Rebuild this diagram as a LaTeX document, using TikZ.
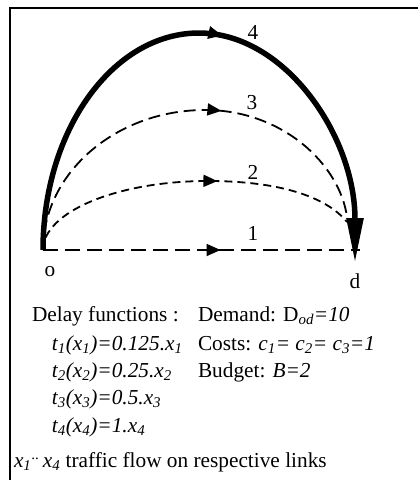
\documentclass[tikz,border=0pt]{standalone}
\usepackage{fontspec}
\setmainfont{Liberation Serif}
\usetikzlibrary{arrows.meta,decorations.markings}
\begin{document}
\begin{tikzpicture}[x=1pt,y=-1pt,
  every node/.style={inner sep=0pt,outer sep=0pt,font=\fontsize{21.3}{25}\selectfont},
  txt/.style={anchor=base west},
  lbl/.style={anchor=base},
  midarrow/.style={postaction={decorate,decoration={markings,
      mark=at position #1 with {\arrow{Triangle[length=14pt,width=12pt]}}}}},
  dlink/.style={line width=1.8pt},
  thick4/.style={line width=5.5pt}]
\useasboundingbox (0,0) rectangle (418,480);
% frame
\draw[line width=1.5pt] (10,480) -- (10,8) -- (418,8);
% vertices
\coordinate (o) at (43,250);
\coordinate (d) at (360,250);
\coordinate (p2) at (208,181);
\coordinate (p3) at (205,110);
\coordinate (p4) at (199,33);
\coordinate (e2) at (347,222);
\coordinate (e3) at (347,217);
\coordinate (dtip) at (355,263);
% link 1
\draw[dlink,dash pattern=on 15pt off 7pt,midarrow=0.56] (o) -- (d);
% link 2
\draw[dlink,dash pattern=on 8pt off 5pt,midarrow=0.59]
  (o) .. controls (43,212) and (117,181) .. (p2)
      .. controls (275,181) and (325,195) .. (e2);
% link 3
\draw[dlink,dash pattern=on 12pt off 6pt,midarrow=0.59]
  (o) .. controls (43,173) and (116,110) .. (p3)
      .. controls (283,110) and (340,165) .. (e3);
% link 4
\draw[thick4,midarrow=0.53,-{Triangle[length=45pt,width=16pt]}]
  (o) .. controls (43,130) and (113,33) .. (p4)
      .. controls (285,33) and (355,136) .. (dtip);
% labels
\node[lbl] (l1) at (253,240) {1};
\node[lbl] (l2) at (253,179) {2};
\node[lbl] (l3) at (252,109) {3};
\node[lbl] (l4) at (253,39) {4};
\node[lbl] (lo) at (50,276) {o};
\node[lbl] (ld) at (355,288) {d};
% text
\node[txt] (t0) at (32,321) {Delay functions :};
\node[txt] (t1) at (52,350) {\itshape t\textsubscript{1}(x\textsubscript{1})=0.125.x\textsubscript{1}};
\node[txt] (t2) at (52,377) {\itshape t\textsubscript{2}(x\textsubscript{2})=0.25.x\textsubscript{2}};
\node[txt] (t3) at (52,404) {\itshape t\textsubscript{3}(x\textsubscript{3})=0.5.x\textsubscript{3}};
\node[txt] (t4) at (52,432) {\itshape t\textsubscript{4}(x\textsubscript{4})=1.x\textsubscript{4}};
\node[txt] (r1) at (198,321) {Demand: D\textsubscript{\itshape od}\textit{=10}};
\node[txt] (r2) at (198,350) {Costs: \textit{c\textsubscript{1}= c\textsubscript{2}= c\textsubscript{3}=1}};
\node[txt] (r3) at (198,377) {Budget: \textit{B=2}};
\node[txt] (bl) at (14,467) {\textit{x\textsubscript{1}}\textsuperscript{..}\,\textit{x\textsubscript{4}} traffic flow on respective links};
\end{tikzpicture}
\end{document}
